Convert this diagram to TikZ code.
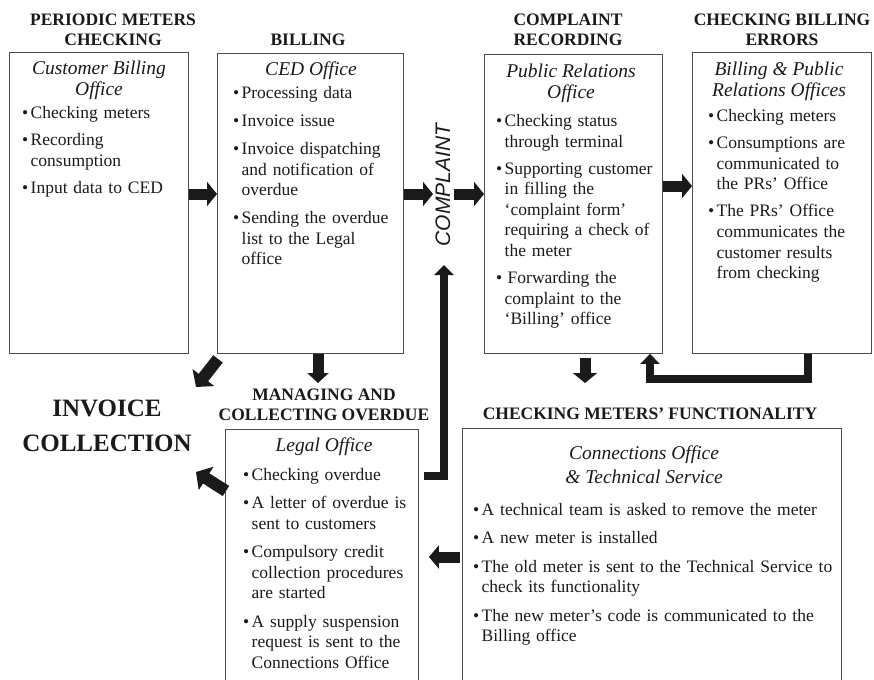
\documentclass[tikz,border=0pt]{standalone}
\usepackage{fontspec}
\setmainfont{Liberation Serif}
\setsansfont{Liberation Sans}
\usetikzlibrary{arrows.meta,calc}

% bullet items with a hanging indent; \bfirst opens a list, \bnext adds the gap
\newlength\bgap
\newcommand\bfirst[1]{\noindent\hangindent=8.5pt\hangafter=1\makebox[8.5pt][l]{\textbullet}#1\par}
\newcommand\bnext[1]{\vspace{\bgap}\noindent\hangindent=8.5pt\hangafter=1\makebox[8.5pt][l]{\textbullet}#1\par}

\definecolor{ink}{HTML}{1A1A1A}

% multi-line centred nodes are placed by the baseline of their last line
\tikzset{
  boxframe/.style={draw=black!70, line width=0.9pt, inner sep=0pt, anchor=north west},
  hdtext/.style={font=\fontsize{17.5}{20}\selectfont\bfseries, align=center, anchor=base, inner sep=0pt, text=ink},
  bigtext/.style={font=\fontsize{25}{35}\selectfont\bfseries, align=center, anchor=base, inner sep=0pt, text=ink},
  offtitle/.style={font=\fontsize{19.5}{21.5}\selectfont\itshape, align=center, anchor=base, inner sep=0pt, text=ink},
  itemlist/.style={font=\fontsize{17.5}{20.5}\selectfont, text width=420pt, anchor=base west, inner sep=0pt, text=ink},
  bigarrow/.style={draw=ink, line width=11pt, -{Triangle[length=10pt,width=24pt]}},
  diagarrow/.style={draw=ink, line width=12pt, -{Triangle[length=12pt,width=27pt]}},
  loopline/.style={draw=ink, line width=8pt, -{Triangle[length=10pt,width=19pt]}},
}

\begin{document}
\begin{tikzpicture}[x=1pt, y=-1pt]
\clip (0,0) rectangle (874,679);

% ---------- top row of offices ----------
\node[boxframe, minimum width=179pt, minimum height=301pt] (b1) at (9,52) {};
\node[boxframe, minimum width=186pt, minimum height=300pt] (b2) at (217,53) {};
\node[boxframe, minimum width=178pt, minimum height=299pt] (b3) at (484,54) {};
\node[boxframe, minimum width=179pt, minimum height=301pt] (b4) at (692,52) {};

\node[hdtext] (h1) at (113,46) {PERIODIC METERS\\CHECKING};
\node[hdtext] (h2) at (308,46) {BILLING};
\node[hdtext] (h3) at (568,46) {COMPLAINT\\RECORDING};
\node[hdtext] (h4) at (782,46) {CHECKING BILLING\\ERRORS};

\node[offtitle] (t1) at (99,96) {Customer Billing\\Office};
\node[itemlist] (l1) at (22,119) {\setlength\bgap{6.5pt}%
  \bfirst{Checking meters}
  \bnext{Recording\newline consumption}
  \bnext{Input data to CED}};

\node[offtitle] (t2) at (311,76) {CED Office};
\node[itemlist] (l2) at (233,99) {\setlength\bgap{7.5pt}%
  \bfirst{Processing data}
  \bnext{Invoice issue}
  \bnext{Invoice dispatching\newline and notification of\newline overdue}
  \bnext{Sending the overdue\newline list to the Legal\newline office}};

\node[offtitle] (t3) at (571,99) {Public Relations\\Office};
\node[itemlist] (l3) at (496,127) {\setlength\bgap{6.5pt}%
  \bfirst{Checking status\newline through terminal}
  \bnext{Supporting customer\newline in filling the\newline `complaint form'\newline requiring a check of\newline the meter}
  \bnext{\hspace{3pt}Forwarding the\newline complaint to the\newline `Billing' office}};

\node[offtitle] (t4) at (779,97) {Billing \& Public\\Relations Offices};
\node[itemlist] (l4) at (708,122) {\setlength\bgap{6.5pt}%
  \bfirst{Checking meters}
  \bnext{Consumptions are\newline communicated to\newline the PRs' Office}
  \bnext{The PRs' Office\newline communicates the\newline customer results\newline from checking}};

% ---------- lower offices ----------
\node[bigtext] (inv) at (107,451) {INVOICE\\COLLECTION};

\node[hdtext] (h5) at (324,420) {MANAGING AND\\COLLECTING OVERDUE};
\node[boxframe, minimum width=193pt, minimum height=270pt] (lg) at (225,429) {};
\node[offtitle] (t5) at (324,451) {Legal Office};
\node[itemlist] (l5) at (243,480) {\setlength\bgap{8pt}%
  \bfirst{Checking overdue}
  \bnext{A letter of overdue is\newline sent to customers}
  \bnext{Compulsory credit\newline collection procedures\newline are started}
  \bnext{A supply suspension\newline request is sent to the\newline Connections Office}};

\node[hdtext] (h6) at (650,419) {CHECKING METERS' FUNCTIONALITY};
\node[boxframe, minimum width=379pt, minimum height=270pt] (cn) at (462,428) {};
\node[offtitle, font=\fontsize{19.5}{24}\selectfont\itshape] (t6) at (644,483) {Connections Office\\\& Technical Service};
\node[itemlist] (l6) at (473,515) {\setlength\bgap{8pt}%
  \bfirst{A technical team is asked to remove the meter}
  \bnext{A new meter is installed}
  \bnext{The old meter is sent to the Technical Service to\newline check its functionality}
  \bnext{The new meter's code is communicated to the\newline Billing office}};

% ---------- complaint entry ----------
\node[rotate=90, font=\fontsize{21}{21}\selectfont\sffamily\itshape, inner sep=0pt, text=ink] (cmp) at (443,185) {COMPLAINT};
\coordinate (cl) at (433,194);
\coordinate (cr) at (454,194);
\coordinate (cup) at (444,265);

% ---------- flow arrows ----------
\draw[bigarrow] ($(b1.north east)+(0,142)$) -- ($(b2.north west)+(0,141)$);
\draw[bigarrow] ($(b2.north east)+(0,141)$) -- (cl);
\draw[bigarrow] (cr) -- ($(b3.north west)+(0,140)$);
\draw[bigarrow] ($(b3.north east)+(0,132)$) -- ($(b4.north west)+(0,134)$);

\coordinate (c2d) at (318,383);
\draw[bigarrow, -{Triangle[length=10pt,width=21pt]}] (b2.south -| c2d) -- (c2d);
\coordinate (c3d) at (585,383);
\draw[bigarrow] ($(b3.south -| c3d)+(0,4)$) -- (c3d);

% billing result back to the complaint office
\coordinate (fbx) at (808,379);
\coordinate (fbup) at (650,379);
\draw[loopline] (b4.south -| fbx) -- (fbx) -- (fbup) -- (b3.south -| fbup);

% overdue check reopening a complaint
\draw[loopline] ($(lg.north east)+(5,47)$) -| (cup);

% towards invoice collection
\coordinate (inv1) at (196,387);
\draw[diagarrow] ($(b2.south west)+(1,5)$) -- (inv1);
\coordinate (inv2) at (196,472);
\draw[diagarrow] ($(lg.north west)+(1,62)$) -- (inv2);

% connections office feeding the legal office
\draw[bigarrow, -{Triangle[length=10pt,width=23pt]}] ($(cn.north west)+(-2,129)$) -- ($(lg.north east)+(10,128)$);

\end{tikzpicture}
\end{document}
